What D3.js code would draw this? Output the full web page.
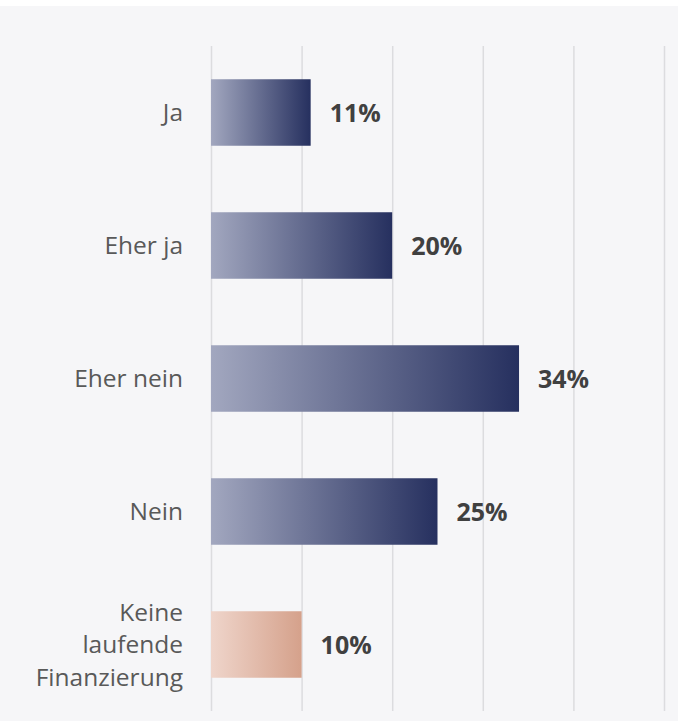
<!DOCTYPE html>
<html>
<head>
<meta charset="utf-8">
<script src="https://cdn.jsdelivr.net/npm/d3@7"></script>
<style>
  html, body { margin: 0; padding: 0; background: #ffffff; }
  svg { display: block; }
</style>
</head>
<body>
<svg id="chart" width="680" height="721"></svg>
<script>
// Answer categories, share of respondents (%) and label lines
const categories = ["Ja", "Eher ja", "Eher nein", "Nein", "Keine laufende Finanzierung"];
const categoryLines = [["Ja"], ["Eher ja"], ["Eher nein"], ["Nein"], ["Keine", "laufende", "Finanzierung"]];
const values = [11, 20, 34, 25, 10];
const gridTicks = [0, 10, 20, 30, 40, 50];

const svg = d3.select("#chart");
const W = 680, H = 721;

// panel background
svg.append("rect").attr("x", 0).attr("y", 6).attr("width", 678).attr("height", H - 6).attr("fill", "#f6f6f8");

const x = d3.scaleLinear().domain([0, 50]).range([211, 664]);
const y = d3.scaleBand().domain(categories).range([46, 711]).paddingInner(0.5).paddingOuter(0.25);

const defs = svg.append("defs");
function grad(id, c0, c1) {
  const g = defs.append("linearGradient").attr("id", id).attr("x1", "0%").attr("x2", "100%").attr("y1", "0%").attr("y2", "0%");
  g.append("stop").attr("offset", "0%").attr("stop-color", c0);
  g.append("stop").attr("offset", "100%").attr("stop-color", c1);
}
grad("gNavy", "#a2a7bf", "#26305f");
grad("gSalmon", "#efd5cb", "#d5a18b");

// vertical gridlines
const xAxis = d3.axisBottom(x).tickValues(gridTicks).tickSize(711 - 46).tickFormat("");
const gx = svg.append("g").attr("transform", "translate(0,46)").call(xAxis);
gx.select(".domain").remove();
gx.selectAll(".tick line").attr("stroke", "#dcdcdf").attr("stroke-width", 1.5);

// bars
svg.append("g").selectAll("rect").data(categories).join("rect")
  .attr("x", x(0))
  .attr("y", d => y(d))
  .attr("width", (d, i) => x(values[i]) - x(0))
  .attr("height", y.bandwidth())
  .attr("fill", (d, i) => i === 4 ? "url(#gSalmon)" : "url(#gNavy)");

// value labels
svg.append("g").selectAll("text").data(categories).join("text")
  .attr("x", (d, i) => x(values[i]) + 19)
  .attr("y", d => y(d) + y.bandwidth() / 2)
  .attr("dy", "0.36em")
  .attr("font-family", "'Open Sans', sans-serif")
  .attr("font-weight", 700)
  .attr("font-size", 25)
  .attr("fill", "#404040")
  .text((d, i) => values[i] + "%");

// category labels
const lh = 32.5;
const cl = svg.append("g").selectAll("text").data(categories).join("text")
  .attr("text-anchor", "end")
  .attr("font-family", "'Open Sans', sans-serif")
  .attr("font-size", 24.5)
  .attr("fill", "#595959");
cl.each(function(d, i) {
  const lines = categoryLines[i];
  const cy = y(d) + y.bandwidth() / 2;
  const t = d3.select(this);
  lines.forEach((ln, j) => {
    t.append("tspan")
      .attr("x", 183)
      .attr("y", cy + (j - (lines.length - 1) / 2) * lh)
      .attr("dy", "0.36em")
      .text(ln);
  });
});
</script>
</body>
</html>
